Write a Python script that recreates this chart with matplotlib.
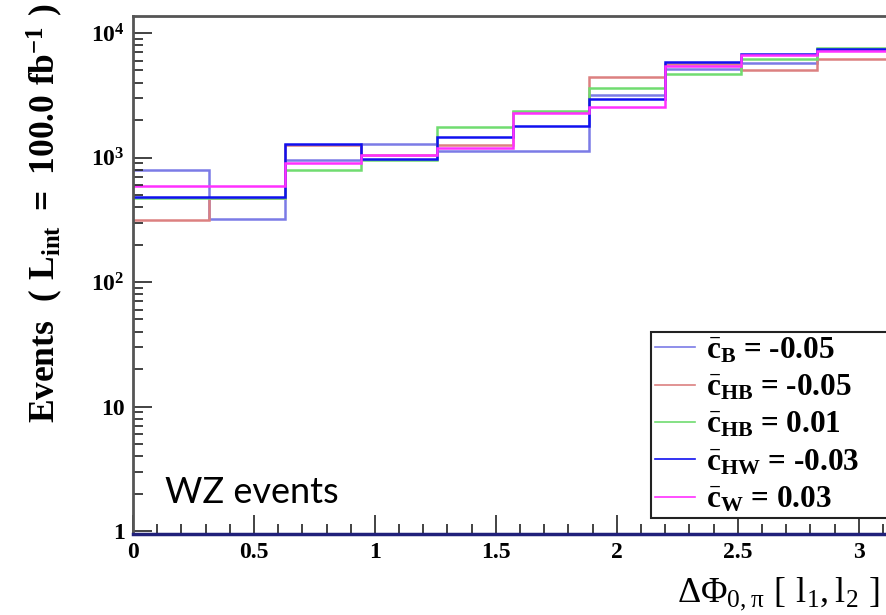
import matplotlib
matplotlib.use("Agg")
import matplotlib.pyplot as plt
import numpy as np
from matplotlib.ticker import MultipleLocator, LogLocator, NullFormatter

plt.rcParams['mathtext.fontset'] = 'custom'
plt.rcParams['mathtext.rm'] = 'Liberation Serif'
plt.rcParams['mathtext.it'] = 'Liberation Serif:bold'
plt.rcParams['mathtext.bf'] = 'Liberation Serif:bold'

# 10 bins de 0 a pi
edges = np.linspace(0, np.pi, 11)

c_B_m005 = [798, 319, 955, 1275, 1128, 1128, 3200, 5140, 5740, 7300]
c_HB_m005 = [315, 470, 1260, 1040, 1260, 2320, 4440, 5640, 5070, 6180]
c_HB_p001 = [477, 477, 798, 955, 1759, 2376, 3650, 4660, 6200, 7620]
c_HW_m003 = [484, 484, 1283, 978, 1462, 1779, 2925, 5850, 6740, 7400]
c_W_p003 = [594, 594, 898, 1054, 1199, 2264, 2550, 5400, 6640, 7210]

series = [c_B_m005, c_HB_m005, c_HB_p001, c_HW_m003, c_W_p003]
labels = [r'$\bar{c}_{B}$ = -0.05', r'$\bar{c}_{HB}$ = -0.05', r'$\bar{c}_{HB}$ = 0.01',
          r'$\bar{c}_{HW}$ = -0.03', r'$\bar{c}_{W}$ = 0.03']
colors = ['#7b7be6', '#dc8080', '#70dc70', '#1010f0', '#ff30ff']

ytick_vals = [1, 10, 100, 1000, 10000]
ytick_labels = ['1', '10', r'$\mathbf{10^{2}}$', r'$\mathbf{10^{3}}$', r'$\mathbf{10^{4}}$']
xtick_vals = [0, 0.5, 1, 1.5, 2, 2.5, 3]
xtick_labels = ['0', '0.5', '1', '1.5', '2', '2.5', '3']

fig = plt.figure(figsize=(8.87, 6.15), dpi=100)
ax = fig.add_axes([133/887, 1-534/615, 760/887, 518/615])

for vals, lab, col in zip(series, labels, colors):
    ax.stairs(vals, edges, baseline=None, color=col, lw=1.8, label=lab)

ax.set_yscale('log')
ax.set_xlim(0, np.pi)
ax.set_ylim(0.946, 13700)

ax.set_yticks(ytick_vals)
ax.set_yticklabels(ytick_labels)
ax.yaxis.set_minor_locator(LogLocator(base=10, subs=np.arange(2, 10)))
ax.yaxis.set_minor_formatter(NullFormatter())
ax.set_xticks(xtick_vals)
ax.set_xticklabels(xtick_labels)
ax.xaxis.set_minor_locator(MultipleLocator(0.1))

ax.tick_params(which='both', direction='in', right=False, top=False, width=1.2, color='#222222')
ax.tick_params(which='major', length=14, pad=6)
ax.tick_params(which='minor', length=7)
for lab in ax.get_xticklabels() + ax.get_yticklabels():
    lab.set_fontfamily('Liberation Serif')
    lab.set_fontweight('bold')
    lab.set_fontsize(17)

for s in ['left', 'top']:
    ax.spines[s].set_color('#555555')
    ax.spines[s].set_linewidth(2)
ax.spines['right'].set_visible(False)
ax.spines['bottom'].set_color('#20207a')
ax.spines['bottom'].set_linewidth(2.5)

fig.text(45/887, 1-4/615, r'$\mathbf{Events\ \ (\ L_{int}\ =\ 100.0\ fb^{-1}\ )}$',
         rotation=90, ha='center', va='top', fontsize=25.5,
         family='Liberation Serif', fontweight='bold')
fig.text(880/887, 1-612/615, r'$\mathrm{\Delta\Phi_{0,\pi}\ [\ l_{1},l_{2}\ ]}$',
         ha='right', va='bottom', fontsize=26, family='Liberation Serif')

ax.text(165/887, 1-503/615, 'WZ events', transform=fig.transFigure,
        fontsize=26, family='Lato', ha='left', va='baseline')

leg_top = 1 - 332/615
leg = ax.legend(loc='upper left', bbox_to_anchor=(651/887, leg_top - 0.01, 260/887, 0.01),
                bbox_transform=fig.transFigure, mode='expand', fancybox=False,
                edgecolor='#222222', framealpha=1, borderaxespad=0,
                handlelength=1.3, handletextpad=0.35, labelspacing=0.25,
                borderpad=0.12,
                prop={'family': 'Liberation Serif', 'weight': 'bold', 'size': 22.5})
leg.get_frame().set_linewidth(1.5)
for h in leg.get_lines():
    h.set_linewidth(1.2)

fig.savefig('out.png', dpi=100)
